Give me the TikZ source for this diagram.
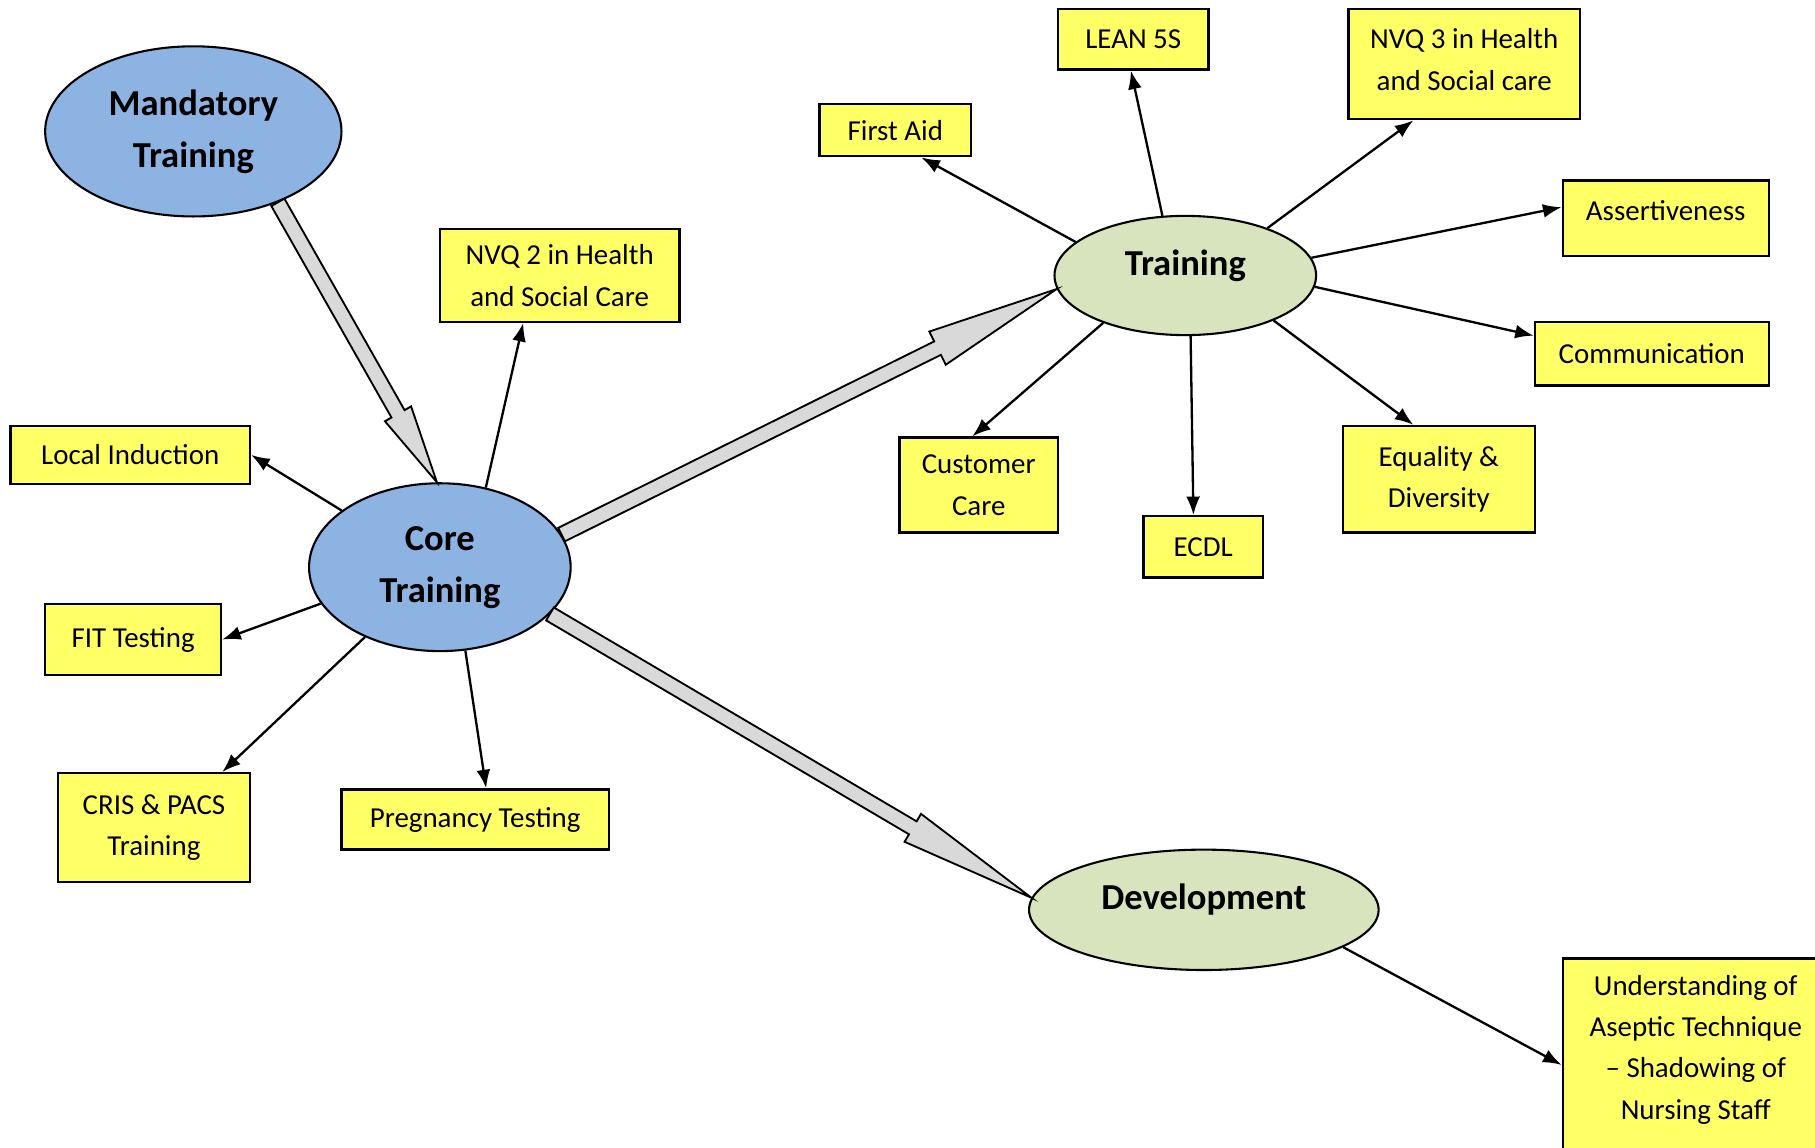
\documentclass[tikz,border=0pt]{standalone}
\usepackage{fontspec}
\setmainfont{Carlito}
\usetikzlibrary{shapes.geometric,arrows.meta,calc}
\definecolor{ovblue}{HTML}{8DB3E2}
\definecolor{ovgreen}{HTML}{D7E4BD}
\definecolor{boxyellow}{HTML}{FFFF66}
\definecolor{blockgray}{HTML}{D9D9D9}
\tikzset{
  oval/.style={ellipse, draw=black, line width=1.8pt, inner sep=0pt, align=center,
    font=\fontsize{31.6}{45}\selectfont\bfseries},
  ybox/.style={rectangle, draw=black, line width=2pt, fill=boxyellow, inner sep=0pt,
    align=center, font=\fontsize{25}{36}\selectfont},
  boxtext/.style={inner sep=0pt, align=center, font=\fontsize{25}{35.5}\selectfont},
  link/.style={line width=2pt, -{Latex[length=16pt,width=12pt]}},
  blockarr/.style={draw=black, line width=1.6pt, fill=blockgray, line join=miter},
}
\newcommand{\blkarrow}[4]{%
  \coordinate (bkS) at (#1);
  \coordinate (bkE) at (#2);
  \coordinate (bkC) at ($(bkE)!#3!(bkS)$);
  \draw[blockarr] ($(bkS)!6.5pt!90:(bkE)$) -- ($(bkC)!6.5pt!90:(bkE)$)
    -- ($(bkC)!#4!90:(bkE)$) -- (bkE) -- ($(bkC)!#4!-90:(bkE)$)
    -- ($(bkC)!6.5pt!-90:(bkE)$) -- ($(bkS)!6.5pt!-90:(bkE)$) -- cycle;
}
\begin{document}
\begin{tikzpicture}[x=1pt,y=-1pt]
\useasboundingbox (0,0) rectangle (1568,991);
\clip (0,0) rectangle (1568,991);
\fill[white] (0,0) rectangle (1568,991);

% boxes
\node[ybox, minimum width=207pt, minimum height=80pt] (nvq2) at (483.5,238) {NVQ 2 in Health\\and Social Care};
\node[ybox, minimum width=207pt, minimum height=50pt] (local) at (112.5,393) {Local Induction};
\node[ybox, minimum width=152pt, minimum height=61pt] (fit) at (115,552.5) {FIT Testing};
\node[ybox, minimum width=166pt, minimum height=94pt] (cris) at (133,715) {CRIS \& PACS\\Training};
\node[ybox, minimum width=231pt, minimum height=52pt] (preg) at (410.5,708) {Pregnancy Testing};
\node[ybox, minimum width=131pt, minimum height=45pt] (firstaid) at (773.5,112.5) {First Aid};
\node[ybox, minimum width=130pt, minimum height=52pt] (lean) at (979,34) {LEAN 5S};
\node[ybox, minimum width=200pt, minimum height=95pt, text depth=8pt] (nvq3) at (1265,55.5) {NVQ 3 in Health\\and Social care};
\node[ybox, minimum width=178pt, minimum height=65pt, text depth=13pt] (assert) at (1439,188.5) {Assertiveness};
\node[ybox, minimum width=202pt, minimum height=55pt] (comm) at (1427,305.5) {Communication};
\node[ybox, minimum width=137pt, minimum height=82pt] (cust) at (845.5,419) {Customer\\Care};
\node[ybox, minimum width=103pt, minimum height=53pt] (ecdl) at (1039.5,472.5) {ECDL};
\node[ybox, minimum width=166pt, minimum height=92pt] (equal) at (1243,414) {Equality \&\\Diversity};
\node[ybox, minimum width=230pt, minimum height=172pt] (und) at (1465,914) {};
\node[boxtext] (undtext) at (1465,907) {Understanding of\\Aseptic Technique\\– Shadowing of\\Nursing Staff};

% ovals
\node[oval, fill=ovblue, minimum width=256pt, minimum height=147pt] (mand) at (167,113.5) {Mandatory\\Training};
\node[oval, fill=ovblue, minimum width=226pt, minimum height=145pt] (core) at (380,490) {Core\\Training};
\node[oval, fill=ovgreen, minimum width=226pt, minimum height=103pt, text depth=22pt] (train) at (1024,238) {Training};
\node[oval, fill=ovgreen, minimum width=302pt, minimum height=104pt, text depth=22pt] (dev) at (1040,786) {Development};

% thin arrows
\draw[link] (core.60) -- ([xshift=-31.5pt]nvq2.south);
\draw[link] (core.150) -- (local.east);
\draw[link] (core.197) -- (fit.east);
\draw[link] (core.223) -- ([xshift=59pt]cris.north);
\draw[link] (core.-73) -- ([xshift=9.5pt]preg.north);
\draw[link] (train.163) -- ([xshift=22.5pt]firstaid.south);
\draw[link] (train.111) -- ([xshift=-2pt]lean.south);
\draw[link] (train.30) -- ([xshift=-44pt]nvq3.south);
\draw[link] (train.8) -- ([yshift=9.5pt]assert.west);
\draw[link] (train.-5) -- ([yshift=15.5pt]comm.west);
\draw[link] (train.-150) -- ([xshift=-5.5pt]cust.north);
\draw[link] (train.-85) -- ([xshift=-8.5pt]ecdl.north);
\draw[link] (train.-27) -- ([xshift=-22pt]equal.north);
\draw[link] (dev.-15) -- ([yshift=-6pt]und.west);

% block arrows
\blkarrow{mand.-40}{core.92}{68pt}{13pt}
\blkarrow{core.15}{train.186}{115pt}{16pt}
\blkarrow{core.-23}{dev.176}{119pt}{14pt}
\end{tikzpicture}
\end{document}
